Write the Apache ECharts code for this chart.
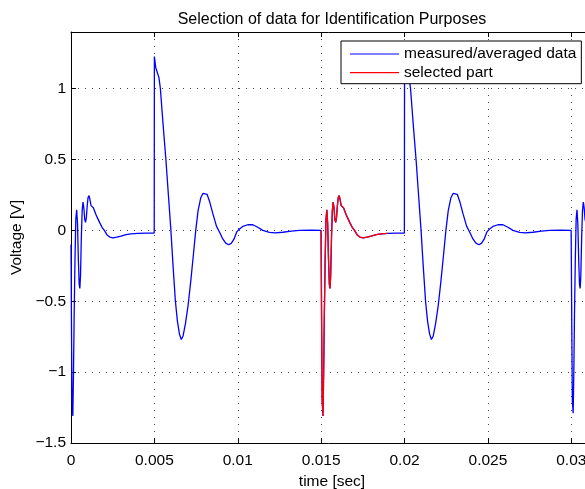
<!DOCTYPE html>
<html>
<head>
<meta charset="utf-8">
<script src="https://cdn.jsdelivr.net/npm/echarts@6/dist/echarts.min.js"></script>
<style>
html,body{margin:0;padding:0;background:#fff;}
#chart{width:585px;height:489px;}
</style>
</head>
<body>
<div id="chart"></div>
<script>
// ---- data ----
const chartTitle = 'Selection of data for Identification Purposes';
const xLabel = 'time [sec]';
const yLabel = 'Voltage [V]';
const seriesNames = ['measured/averaged data', 'selected part'];
const xTicks = [0, 0.005, 0.01, 0.015, 0.02, 0.025, 0.03];
const yTicks = [-1.5, -1, -0.5, 0, 0.5, 1];
const xRange = [0, 0.0313];
const yRange = [-1.5, 1.4];
const selectedRange = [0.015, 0.019];

const timeSec = [
  // pulse at 0
  0, 0.00003, 0.00006, 0.00011, 0.00015, 0.00019, 0.00024, 0.00029, 0.00034, 0.00039,
  0.00044, 0.00049, 0.00053, 0.00057, 0.00062, 0.00067, 0.00072, 0.00077, 0.00082, 0.00087,
  0.00092, 0.00097, 0.00102, 0.00108, 0.00114, 0.00120, 0.00127, 0.00134, 0.00142, 0.00150,
  0.00160, 0.00172, 0.00186, 0.00200, 0.00215, 0.00232, 0.00252, 0.00275, 0.00300, 0.00330,
  0.00360, 0.00400, 0.00450, 0.00499,
  // pulse at 0.005
  0.005, 0.00504, 0.00508, 0.00518, 0.00527, 0.00536, 0.00552, 0.00569, 0.00584, 0.00599,
  0.00612, 0.00626, 0.00638, 0.00650, 0.00661, 0.00672, 0.00686, 0.00702, 0.00718, 0.00734,
  0.00748, 0.00762, 0.00778, 0.00792, 0.00803, 0.00816, 0.00832, 0.00850, 0.00872, 0.00894,
  0.00910, 0.00928, 0.00946, 0.00962, 0.00978, 0.00994, 0.01010, 0.01030, 0.01060, 0.01090,
  0.01120, 0.01150, 0.01190, 0.01224, 0.01270, 0.01320, 0.01370, 0.01440, 0.01499,
  // pulse at 0.015
  0.015, 0.01503, 0.01506, 0.01511, 0.01515, 0.01519, 0.01524, 0.01529, 0.01534, 0.01539,
  0.01544, 0.01549, 0.01553, 0.01557, 0.01562, 0.01567, 0.01572, 0.01577, 0.01582, 0.01587,
  0.01592, 0.01597, 0.01602, 0.01608, 0.01614, 0.01620, 0.01627, 0.01634, 0.01642, 0.01650,
  0.01660, 0.01672, 0.01686, 0.01700, 0.01715, 0.01732, 0.01752, 0.01775, 0.01800, 0.01830,
  0.01860, 0.01900, 0.01950, 0.01999,
  // pulse at 0.02
  0.02, 0.02004, 0.02008, 0.02018, 0.02027, 0.02036, 0.02052, 0.02069, 0.02084, 0.02099,
  0.02112, 0.02126, 0.02138, 0.02150, 0.02161, 0.02172, 0.02186, 0.02202, 0.02218, 0.02234,
  0.02248, 0.02262, 0.02278, 0.02292, 0.02303, 0.02316, 0.02332, 0.02350, 0.02372, 0.02394,
  0.02410, 0.02428, 0.02446, 0.02462, 0.02478, 0.02494, 0.02510, 0.02530, 0.02560, 0.02590,
  0.02620, 0.02650, 0.02690, 0.02724, 0.02770, 0.02820, 0.02870, 0.02940, 0.02999,
  // pulse at 0.03
  0.03, 0.03003, 0.03006, 0.03011, 0.03015, 0.03019, 0.03024, 0.03029, 0.03034, 0.03039,
  0.03044, 0.03049, 0.03053, 0.03057, 0.03062, 0.03067, 0.03072, 0.03077, 0.03082, 0.03087,
  0.03092, 0.03097, 0.03102, 0.03108, 0.03114, 0.03120, 0.03127, 0.0313
];

const voltage = [
  // pulse at 0
  -0.1, -0.7, -1.2, -1.31, -1.0, -0.6, -0.2, 0.08, 0.146, 0.05,
  -0.2, -0.38, -0.41, -0.32, -0.05, 0.14, 0.2, 0.16, 0.08, 0.057,
  0.09, 0.17, 0.23, 0.246, 0.215, 0.175, 0.165, 0.16, 0.135, 0.11,
  0.085, 0.055, 0.022, 0.0, -0.03, -0.047, -0.052, -0.048, -0.04, -0.03,
  -0.024, -0.021, -0.019, -0.019,
  // pulse at 0.005
  1.227, 1.227, 1.15, 1.14, 1.08, 1.0, 0.75, 0.5, 0.25, 0.0,
  -0.25, -0.5, -0.64, -0.73, -0.77, -0.745, -0.66, -0.53, -0.36, -0.17,
  0.0, 0.14, 0.23, 0.262, 0.268, 0.255, 0.2, 0.12, 0.03, -0.02,
  -0.06, -0.09, -0.101, -0.09, -0.06, -0.01, 0.01, 0.028, 0.04, 0.04,
  0.022, 0.0, -0.014, -0.018, -0.013, -0.005, 0.0, 0.002, 0.0,
  // pulse at 0.015
  0.0, -0.7, -1.2, -1.31, -1.0, -0.6, -0.2, 0.08, 0.146, 0.05,
  -0.2, -0.38, -0.41, -0.32, -0.05, 0.14, 0.2, 0.16, 0.08, 0.057,
  0.09, 0.17, 0.23, 0.246, 0.215, 0.175, 0.165, 0.16, 0.135, 0.11,
  0.085, 0.055, 0.022, 0.0, -0.03, -0.047, -0.052, -0.048, -0.04, -0.03,
  -0.024, -0.021, -0.019, -0.019,
  // pulse at 0.02
  1.227, 1.227, 1.15, 1.14, 1.08, 1.0, 0.75, 0.5, 0.25, 0.0,
  -0.25, -0.5, -0.64, -0.73, -0.77, -0.745, -0.66, -0.53, -0.36, -0.17,
  0.0, 0.14, 0.23, 0.262, 0.268, 0.255, 0.2, 0.12, 0.03, -0.02,
  -0.06, -0.09, -0.101, -0.09, -0.06, -0.01, 0.01, 0.028, 0.04, 0.04,
  0.022, 0.0, -0.014, -0.018, -0.013, -0.005, 0.0, 0.002, 0.0,
  // pulse at 0.03
  0.0, -0.7, -1.2, -1.29, -1.0, -0.6, -0.2, 0.08, 0.146, 0.05,
  -0.2, -0.38, -0.41, -0.32, -0.05, 0.14, 0.2, 0.16, 0.08, 0.057,
  0.09, 0.17, 0.23, 0.246, 0.215, 0.175, 0.165, 0.163
];

// ---- build ----
const measured = timeSec.map((t, i) => [t, voltage[i]]);
const selected = measured.filter(p => p[0] >= selectedRange[0] - 1e-9 && p[0] <= selectedRange[1] + 1e-9);

const FONT = '"Liberation Sans", Arial, Helvetica, sans-serif';
const FS = 15.5;

function isTick(v, list) { return list.some(t => Math.abs(t - v) < 1e-7); }
function fmtX(v) {
  if (!isTick(v, xTicks)) return '';
  return String(+v.toFixed(4));
}
function fmtY(v) {
  if (!isTick(v, yTicks)) return '';
  const s = String(Math.abs(+v.toFixed(3)));
  return v < -1e-9 ? '\u2212' + s : s;
}

const gridLine = { show: true, lineStyle: { color: '#444', width: 1, type: [1, 6] } };

const chart = echarts.init(document.getElementById('chart'), null, { renderer: 'canvas' });
chart.setOption({
  animation: false,
  backgroundColor: '#fff',
  textStyle: { fontFamily: FONT },
  title: {
    text: chartTitle,
    left: 327, top: 7, textAlign: 'center',
    textStyle: { fontFamily: FONT, fontSize: 16, fontWeight: 'normal', color: '#000' }
  },
  grid: { left: 71, top: 32, width: 522, height: 411, containLabel: false, outerBoundsMode: 'none' },
  legend: {
    data: seriesNames,
    orient: 'vertical',
    left: 341, top: 41,
    padding: [5, 5, 3, 9],
    itemGap: 2.7,
    itemWidth: 49, itemHeight: 1.2,
    icon: 'rect',
    borderColor: '#000', borderWidth: 1,
    backgroundColor: '#fff',
    selectedMode: false,
    textStyle: { fontFamily: FONT, fontSize: FS, color: '#000', lineHeight: 16 }
  },
  xAxis: [{
    type: 'value', position: 'bottom',
    min: xRange[0], max: xRange[1], interval: 0.005,
    name: xLabel, nameLocation: 'middle', nameGap: 23,
    nameTextStyle: { fontFamily: FONT, fontSize: FS, color: '#000' },
    axisLine: { show: true, onZero: false, lineStyle: { color: '#000', width: 1 } },
    axisTick: { show: true, inside: true, length: 5, lineStyle: { color: '#000' } },
    axisLabel: { formatter: fmtX, margin: 10, fontFamily: FONT, fontSize: FS, color: '#000', showMaxLabel: false },
    splitLine: gridLine
  }, {
    type: 'value', position: 'top',
    min: xRange[0], max: xRange[1], interval: 0.005,
    axisLine: { show: true, onZero: false, lineStyle: { color: '#000', width: 1 } },
    axisTick: { show: true, inside: true, length: 5, lineStyle: { color: '#000' } },
    axisLabel: { show: false },
    splitLine: { show: false }
  }],
  yAxis: [{
    type: 'value', position: 'left',
    min: yRange[0], max: yRange[1], interval: 0.5,
    name: yLabel, nameLocation: 'middle', nameGap: 44, nameRotate: 90,
    nameTextStyle: { fontFamily: FONT, fontSize: FS, color: '#000' },
    axisLine: { show: true, onZero: false, lineStyle: { color: '#000', width: 1 } },
    axisTick: { show: true, inside: true, length: 5, lineStyle: { color: '#000' } },
    axisLabel: { formatter: fmtY, margin: 5, fontFamily: FONT, fontSize: FS, color: '#000', showMaxLabel: false },
    splitLine: gridLine
  }, {
    type: 'value', position: 'right',
    min: yRange[0], max: yRange[1], interval: 0.5,
    axisLine: { show: true, onZero: false, lineStyle: { color: '#000', width: 1 } },
    axisTick: { show: true, inside: true, length: 5, lineStyle: { color: '#000' } },
    axisLabel: { show: false },
    splitLine: { show: false }
  }],
  series: [{
    name: seriesNames[0], type: 'line', data: measured,
    xAxisIndex: 0, yAxisIndex: 0,
    showSymbol: false, symbol: 'none',
    lineStyle: { color: '#0000ff', width: 1.3 }, itemStyle: { color: '#0000ff' },
    z: 2
  }, {
    name: seriesNames[1], type: 'line', data: selected,
    xAxisIndex: 0, yAxisIndex: 0,
    showSymbol: false, symbol: 'none',
    lineStyle: { color: '#ff0000', width: 1.3 }, itemStyle: { color: '#ff0000' },
    z: 3
  }]
});
</script>
</body>
</html>
